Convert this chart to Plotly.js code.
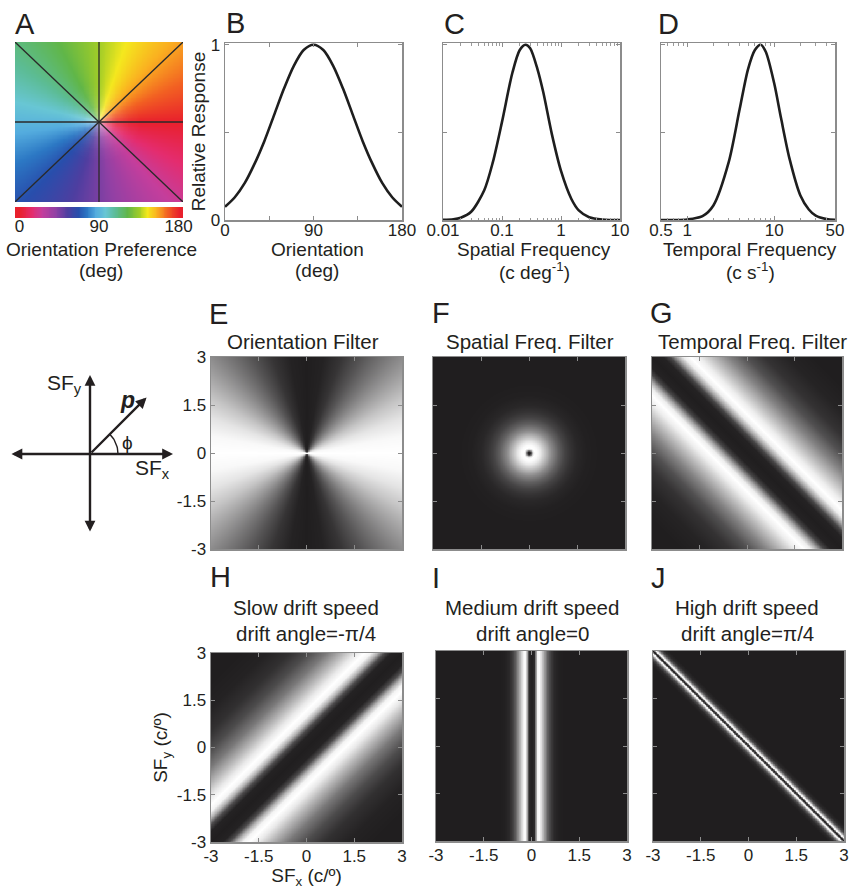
<!DOCTYPE html>
<html>
<head>
<meta charset="utf-8">
<script src="https://cdn.plot.ly/plotly-3.0.1.min.js"></script>
<style>html,body{margin:0;padding:0;background:#fff;}#chart{width:851px;height:889px;}</style>
</head>
<body>
<div id="chart"></div>
<script>
// ===================== DATA =====================
// Panel A colour bar: orientation preference (deg) and its colours
const prefStops = [0, 14, 25, 40, 54, 66, 76, 86, 97, 108, 122, 135, 144, 155, 167, 180];
const prefColors = ['rgb(232,32,44)','rgb(228,44,110)','rgb(196,62,156)','rgb(146,64,164)','rgb(78,62,160)','rgb(40,78,172)',
  'rgb(44,120,196)','rgb(84,172,222)','rgb(104,198,212)','rgb(92,188,150)','rgb(96,182,72)','rgb(160,204,40)',
  'rgb(244,232,30)','rgb(250,176,32)','rgb(242,96,34)','rgb(232,32,44)'];
const sectorAngles = [0, 45, 90, 135];          // black lines in panel A (deg)
const prefTicks = [0, 90, 180];

// Panel B: orientation tuning
const oriDeg  = [0,10,20,30,40,50,60,70,80,90,100,110,120,130,140,150,160,170,180];
const oriResp = [0.075,0.13,0.21,0.32,0.45,0.60,0.75,0.88,0.97,1.0,0.97,0.88,0.75,0.60,0.45,0.32,0.21,0.13,0.075];

// Panel C: spatial frequency tuning (c/deg)
const sfCpd  = [0.01,0.015,0.02,0.03,0.05,0.07,0.1,0.15,0.2,0.25,0.3,0.4,0.5,0.7,1,1.5,2,3,5,7,10];
const sfResp = [0.001,0.004,0.013,0.047,0.17,0.33,0.56,0.84,0.97,1.0,0.98,0.86,0.73,0.49,0.28,0.12,0.055,0.016,0.002,0,0];
const sfTicks = [0.01, 0.1, 1, 10];

// Panel D: temporal frequency tuning (c/s)
const tfHz   = [0.5,0.7,1,1.5,2,3,4,5,6,7,8,10,12,15,20,25,30,40,50];
const tfResp = [0,0,0.003,0.022,0.083,0.33,0.63,0.86,0.97,1.0,0.96,0.78,0.58,0.35,0.14,0.06,0.025,0.005,0.001];
const tfTicks = [0.5, 1, 10, 50];

// Filter panels: axis ticks (c/deg) and gain profiles
const filterTicks = [-3, -1.5, 0, 1.5, 3];
const eAngle = [0,10,20,30,40,50,60,70,80,90];              // deg from SFx axis
const eGain  = [1.0,0.97,0.88,0.74,0.57,0.40,0.24,0.10,0.02,0];
const fRadius = [0,0.04,0.08,0.12,0.17,0.25,0.35,0.5,0.7,0.9,1.1,1.3,1.5,1.8,2.2,5];
const fGain   = [0,0.05,0.45,0.85,1.0,0.98,0.9,0.72,0.48,0.3,0.17,0.09,0.04,0.01,0,0];
const gDist = [0,0.25,0.4,0.55,0.7,0.85,1.05,1.35,1.7,2.1,2.5,3.0,3.6,5];   // distance from SFx+SFy=0
const gGain = [0,0.02,0.18,0.6,0.92,1.0,0.92,0.7,0.45,0.22,0.09,0.025,0,0];
const hDist = [0,0.25,0.4,0.55,0.7,0.85,1.05,1.35,1.7,2.1,2.5,3.0,3.6,5];   // distance from SFy=SFx
const hGain = [0,0.02,0.2,0.65,0.95,1.0,0.9,0.66,0.4,0.2,0.08,0.02,0,0];
const iDist = [0,0.08,0.13,0.18,0.23,0.3,0.4,0.5,0.6,0.7,0.85,1.0,5];      // distance from SFx=0
const iGain = [0,0.05,0.5,0.95,1.0,0.85,0.55,0.3,0.14,0.05,0.01,0,0];
const jDist = [0,0.03,0.06,0.09,0.13,0.18,0.25,0.35,5];                   // distance from SFx+SFy=0
const jGain = [0,0.3,1.0,0.9,0.5,0.2,0.05,0,0];

// ===================== helpers =====================
const W = 851, H = 889;
const xd = (a,b) => [a/W, b/W];
const yd = (a,b) => [1-b/H, 1-a/H];
function lookup(xs, ys, v){
  if (v <= xs[0]) return ys[0];
  for (let i=1;i<xs.length;i++){ if (v <= xs[i]){ const t=(v-xs[i-1])/(xs[i]-xs[i-1]); return ys[i-1]+t*(ys[i]-ys[i-1]); } }
  return ys[ys.length-1];
}
const N = 301;
const grid = []; for (let i=0;i<N;i++) grid.push(-3 + 6*i/(N-1));
function image(fn){ const z=[]; for (const y of grid){ const row=[]; for (const x of grid) row.push(fn(x,y)); z.push(row);} return z; }
const R2 = Math.SQRT2;

const FONT = 'Liberation Sans, Arial, Helvetica, sans-serif';
const INK = '#231f20';
const gray = [[0,'rgb(32,30,31)'],[1,'rgb(255,255,255)']];
const prefScale = prefStops.map((s,i)=>[s/180, prefColors[i]]);

// ===================== traces =====================
const traces = [];
// Panel A: orientation-preference map
const aN = 201, aGrid=[]; for (let i=0;i<aN;i++) aGrid.push(-1+2*i/(aN-1));
const aZ = aGrid.map(y => aGrid.map(x => { let th = Math.atan2(y,x)*180/Math.PI; if (th<0) th+=360; return 180 - th/2; }));
traces.push({type:'heatmap', x:aGrid, y:aGrid, z:aZ, zmin:0, zmax:180, colorscale:prefScale, showscale:false, zsmooth:false, xaxis:'x', yaxis:'y', hoverinfo:'skip'});
const washZ = aGrid.map(y => aGrid.map(x => lookup([0,0.1,0.2,0.35,0.5],[0.55,0.32,0.14,0.04,0], Math.hypot(x,y))));
traces.push({type:'heatmap', x:aGrid, y:aGrid, z:washZ, zmin:0, zmax:1, colorscale:[[0,'rgba(255,255,255,0)'],[1,'rgba(255,255,255,1)']], showscale:false, zsmooth:'best', xaxis:'x', yaxis:'y', hoverinfo:'skip'});
const lx=[], ly=[];
sectorAngles.forEach(a => { const r=a*Math.PI/180; const k=1/Math.max(Math.abs(Math.cos(r)),Math.abs(Math.sin(r)));
  lx.push(-k*Math.cos(r), k*Math.cos(r), null); ly.push(-k*Math.sin(r), k*Math.sin(r), null); });
traces.push({type:'scatter', mode:'lines', x:lx, y:ly, line:{color:'#2a2a2a', width:1.3}, xaxis:'x', yaxis:'y', hoverinfo:'skip', showlegend:false});
// colour bar
const barX = []; for (let v=-5; v<=185; v++) barX.push(v);
traces.push({type:'heatmap', x:barX, y:[0], z:[barX], zmin:0, zmax:180, colorscale:prefScale, showscale:false, zsmooth:'best', xaxis:'x2', yaxis:'y2', hoverinfo:'skip'});

// Panels B, C, D
const curveLine = {color:'#1e1e1e', width:2.6, shape:'spline', smoothing:0.8};
traces.push({type:'scatter', mode:'lines', x:oriDeg, y:oriResp, line:curveLine, xaxis:'x3', yaxis:'y3', showlegend:false});
traces.push({type:'scatter', mode:'lines', x:sfCpd, y:sfResp, line:curveLine, xaxis:'x4', yaxis:'y4', showlegend:false});
traces.push({type:'scatter', mode:'lines', x:tfHz, y:tfResp, line:curveLine, xaxis:'x5', yaxis:'y5', showlegend:false});

// Schematic (SFx / SFy axes and vector p)
const orig = [90, 454], phiDeg = 45, arcR = 28;
const arcX=[], arcY=[]; for (let a=0;a<=phiDeg;a+=3){ arcX.push(orig[0]+arcR*Math.cos(a*Math.PI/180)); arcY.push(orig[1]-arcR*Math.sin(a*Math.PI/180)); }
traces.push({type:'scatter', mode:'lines', x:arcX, y:arcY, line:{color:INK,width:1.4}, xaxis:'x6', yaxis:'y6', hoverinfo:'skip', showlegend:false});

// Filter heatmaps
function hm(z, ax){ return {type:'heatmap', x:grid, y:grid, z, zmin:0, zmax:1, colorscale:gray, showscale:false, zsmooth:'best', xaxis:'x'+ax, yaxis:'y'+ax, hoverinfo:'skip'}; }
traces.push(hm(image((x,y)=> lookup(eAngle,eGain, Math.atan2(Math.abs(y),Math.abs(x))*180/Math.PI)), 7));
traces.push(hm(image((x,y)=> lookup(fRadius,fGain, Math.hypot(x,y))), 8));
traces.push(hm(image((x,y)=> lookup(gDist,gGain, Math.abs(x+y)/R2)), 9));
traces.push(hm(image((x,y)=> lookup(hDist,hGain, Math.abs(y-x)/R2)), 10));
traces.push(hm(image((x,y)=> lookup(iDist,iGain, Math.abs(x))), 11));
traces.push(hm(image((x,y)=> lookup(jDist,jGain, Math.abs(x+y)/R2)), 12));

// ===================== layout =====================
const frame = {showline:true, linecolor:'#8c8c8c', linewidth:1.5, mirror:'ticks', ticks:'inside', ticklen:4, tickcolor:'#8c8c8c',
  showgrid:false, zeroline:false, tickfont:{size:17, color:INK, family:FONT}, fixedrange:true};
const hidden = {visible:false, showgrid:false, zeroline:false, fixedrange:true};
const titleFont = {size:19, color:INK, family:FONT};

const layout = {
  width:W, height:H, margin:{l:0,r:0,t:0,b:0}, paper_bgcolor:'#fff', plot_bgcolor:'#fff', showlegend:false,
  font:{family:FONT, color:INK},
  // A
  xaxis:{...hidden, domain:xd(15,183), range:[-1,1], anchor:'y'},
  yaxis:{...hidden, domain:yd(42,202), range:[-1,1], anchor:'x'},
  xaxis2:{showline:false, showgrid:false, zeroline:false, fixedrange:true, domain:xd(15,183), range:[-5,185], anchor:'y2',
    tickvals:prefTicks, ticks:'', ticklabelstandoff:-4, tickfont:{size:17,color:INK,family:FONT}},
  yaxis2:{...hidden, domain:yd(207,218), range:[-0.5,0.5], anchor:'x2'},
  // B
  xaxis3:{...frame, domain:xd(225,402), range:[0,180], anchor:'y3', tickvals:[0,45,90,135,180], ticktext:['0','','90','','180'], ticklabelstandoff:-6},
  yaxis3:{...frame, domain:yd(43,220), range:[0,1.01], anchor:'x3', tickvals:[0,0.5,1], ticktext:['0','','1'],
    title:{text:'Relative Response', font:titleFont, standoff:0}},
  // C
  xaxis4:{...frame, type:'log', domain:xd(443,620), range:[-2,1], anchor:'y4', tickvals:sfTicks, ticktext:sfTicks.map(String), ticklabelstandoff:-6,
    minor:{ticks:'inside', ticklen:2.5, tickcolor:'#9a9a9a', tickvals:[0.02,0.03,0.04,0.05,0.06,0.07,0.08,0.09,0.2,0.3,0.4,0.5,0.6,0.7,0.8,0.9,2,3,4,5,6,7,8,9]}},
  yaxis4:{...frame, domain:yd(43,220), range:[0,1.01], anchor:'x4', tickvals:[0,0.5,1], showticklabels:false},
  // D
  xaxis5:{...frame, type:'log', domain:xd(661,835), range:[Math.log10(0.5),Math.log10(50)], anchor:'y5', tickvals:tfTicks, ticktext:tfTicks.map(String), ticklabelstandoff:-6,
    minor:{ticks:'inside', ticklen:2.5, tickcolor:'#9a9a9a', tickvals:[0.6,0.7,0.8,0.9,2,3,4,5,6,7,8,9,20,30,40]}},
  yaxis5:{...frame, domain:yd(43,220), range:[0,1.01], anchor:'x5', tickvals:[0,0.5,1], showticklabels:false},
  // schematic
  xaxis6:{...hidden, domain:xd(0,185), range:[0,185], anchor:'y6'},
  yaxis6:{...hidden, domain:yd(360,550), range:[550,360], anchor:'x6'},
  // E F G
  xaxis7:{...frame, domain:xd(211,402), range:[-3,3], anchor:'y7', tickvals:filterTicks, showticklabels:false},
  yaxis7:{...frame, domain:yd(357,549), range:[-3,3], anchor:'x7', tickvals:filterTicks, ticktext:filterTicks.map(String)},
  xaxis8:{...frame, domain:xd(433,625), range:[-3,3], anchor:'y8', tickvals:filterTicks, showticklabels:false},
  yaxis8:{...frame, domain:yd(357,549), range:[-3,3], anchor:'x8', tickvals:filterTicks, showticklabels:false},
  xaxis9:{...frame, domain:xd(652,842), range:[-3,3], anchor:'y9', tickvals:filterTicks, showticklabels:false},
  yaxis9:{...frame, domain:yd(357,549), range:[-3,3], anchor:'x9', tickvals:filterTicks, showticklabels:false},
  // H I J
  xaxis10:{...frame, domain:xd(211,402), range:[-3,3], anchor:'y10', tickvals:filterTicks, ticktext:filterTicks.map(String), ticklabelstandoff:-2,
    title:{text:'SF<sub>x</sub> (c/º)', font:titleFont, standoff:12}},
  yaxis10:{...frame, domain:yd(653,842), range:[-3,3], anchor:'x10', tickvals:filterTicks, ticktext:filterTicks.map(String),
    title:{text:'SF<sub>y</sub> (c/º)', font:titleFont, standoff:4}},
  xaxis11:{...frame, domain:xd(436,627), range:[-3,3], anchor:'y11', tickvals:filterTicks, ticktext:filterTicks.map(String), ticklabelstandoff:-2},
  yaxis11:{...frame, domain:yd(651,841), range:[-3,3], anchor:'x11', tickvals:filterTicks, showticklabels:false},
  xaxis12:{...frame, domain:xd(653,844), range:[-3,3], anchor:'y12', tickvals:filterTicks, ticktext:filterTicks.map(String), ticklabelstandoff:-2},
  yaxis12:{...frame, domain:yd(651,841), range:[-3,3], anchor:'x12', tickvals:filterTicks, showticklabels:false},
  annotations:[]
};

// panel letters, axis captions and titles (positioned in page pixels)
const px = (x,y) => ({x:x/W, y:1-y/H, xref:'paper', yref:'paper', showarrow:false, yanchor:'middle'});
const letters = [['A',25,24],['B',235,23],['C',454,24],['D',668,24],['E',218,314],['F',441,313],['G',661,313],['H',221,577],['I',436,578],['J',658,578]];
letters.forEach(([t,x,y]) => layout.annotations.push({...px(x,y), text:t, xanchor:'center', font:{size:29,color:INK,family:FONT}}));
const captions = [['Orientation Preference',101,249],['(deg)',101,271],['Orientation',317,249],['(deg)',317,271],
  ['Spatial Frequency',534,249],['(c deg<sup>-1</sup>)',534,271],['Temporal Frequency',750,249],['(c s<sup>-1</sup>)',750,271]];
captions.forEach(([t,x,y]) => layout.annotations.push({...px(x,y), text:t, xanchor:'center', font:titleFont}));
const titles = [['Orientation Filter',303,341,'center'],['Spatial Freq. Filter',530,341,'center'],['Temporal Freq. Filter',656,341,'left'],
  ['Slow drift speed',306,607,'center'],['drift angle=-π/4',306,633,'center'],
  ['Medium drift speed',532,607,'center'],['drift angle=0',532,633,'center'],
  ['High drift speed',747,607,'center'],['drift angle=π/4',747,633,'center']];
titles.forEach(([t,x,y,al]) => layout.annotations.push({...px(x,y), text:t, xanchor:al, font:{size:20.5,color:INK,family:FONT}}));

// schematic arrows & labels
const sx = {xref:'x6', yref:'y6', axref:'x6', ayref:'y6', text:'', showarrow:true, arrowcolor:INK, arrowwidth:2.4, arrowsize:0.9, arrowhead:2};
layout.annotations.push({...sx, x:173, y:orig[1], ax:10, ay:orig[1], arrowside:'end+start'});
layout.annotations.push({...sx, x:orig[0], y:375, ax:orig[0], ay:533, arrowside:'end+start'});
layout.annotations.push({...sx, x:orig[0]+80*Math.cos(phiDeg*Math.PI/180), y:orig[1]-80*Math.sin(phiDeg*Math.PI/180), ax:orig[0], ay:orig[1]});
const lab = (t,x,y,s) => ({xref:'x6', yref:'y6', x, y, text:t, showarrow:false, xanchor:'center', yanchor:'middle', font:{size:s,color:INK,family:FONT}});
layout.annotations.push(lab('SF<sub>y</sub>',64,384,21));
layout.annotations.push(lab('<b><i>p</i></b>',127,400,23));
layout.annotations.push(lab('ϕ',127,442,19));
layout.annotations.push(lab('SF<sub>x</sub>',152,469,21));

Plotly.newPlot('chart', traces, layout, {staticPlot:true, displayModeBar:false});
</script>
</body>
</html>
